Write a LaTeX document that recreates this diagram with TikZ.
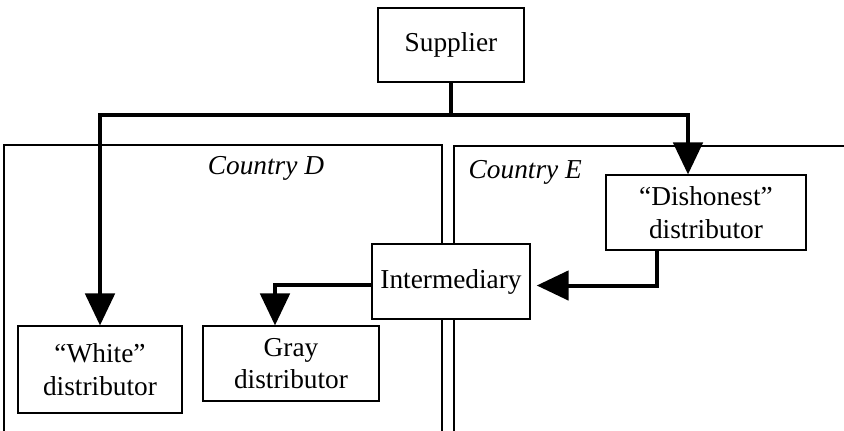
\documentclass[tikz,border=0pt]{standalone}
\usepackage{fontspec}
\setmainfont{Liberation Serif}
\usetikzlibrary{arrows.meta, positioning, calc}

\begin{document}
\begin{tikzpicture}[x=0.75pt, y=-0.75pt,
    font=\fontsize{20.5}{24.5}\selectfont,
    box/.style={draw, line width=1.1pt, fill=white, align=center, inner sep=0pt},
    flow/.style={line width=3pt, -{Triangle[width=22pt, length=24pt]}},
    frame/.style={draw, line width=1.1pt}]
      \useasboundingbox (0,0) rectangle (844,430);
      \clip (0,0) rectangle (844,430);

      % countries
      \draw[frame] (4,145) rectangle (442,450);
      \draw[frame] (454,146) rectangle (860,450);
      \node at (266,168) (cd) {\itshape Country D};
      \node[anchor=west] at (464,172) (ce) {\itshape Country E};

      \node[box, minimum width=109.5pt, minimum height=55.5pt] at (451,45) (sup) {Supplier};
      \node[box, minimum width=150pt, minimum height=56pt] at (706,212.5) (dis) {``Dishonest''\\distributor};
      \node[box, minimum width=118.5pt, minimum height=56pt] at (451,281.5) (inter) {Intermediary};
      \node[box, minimum width=123pt, minimum height=65pt] at (100,369.5) (white) {``White''\\distributor};
      \node[box, minimum width=132pt, minimum height=56pt] at (291,363.5) (gray) {Gray\\distributor};

      \coordinate (split) at (451,115);
      \draw[line width=3pt] (sup.south) -- (split);
      \draw[flow] (split) -| (white.north);
      \draw[flow] (split) -| ($(dis.north)+(-18,0)$);
      \draw[flow] ($(inter.west)+(0,3)$) -| ($(gray.north)+(-16,0)$);
      \draw[flow] ($(dis.south)+(-49,0)$) |- ($(inter.east)+(6,4)$);
    \end{tikzpicture}
\end{document}
